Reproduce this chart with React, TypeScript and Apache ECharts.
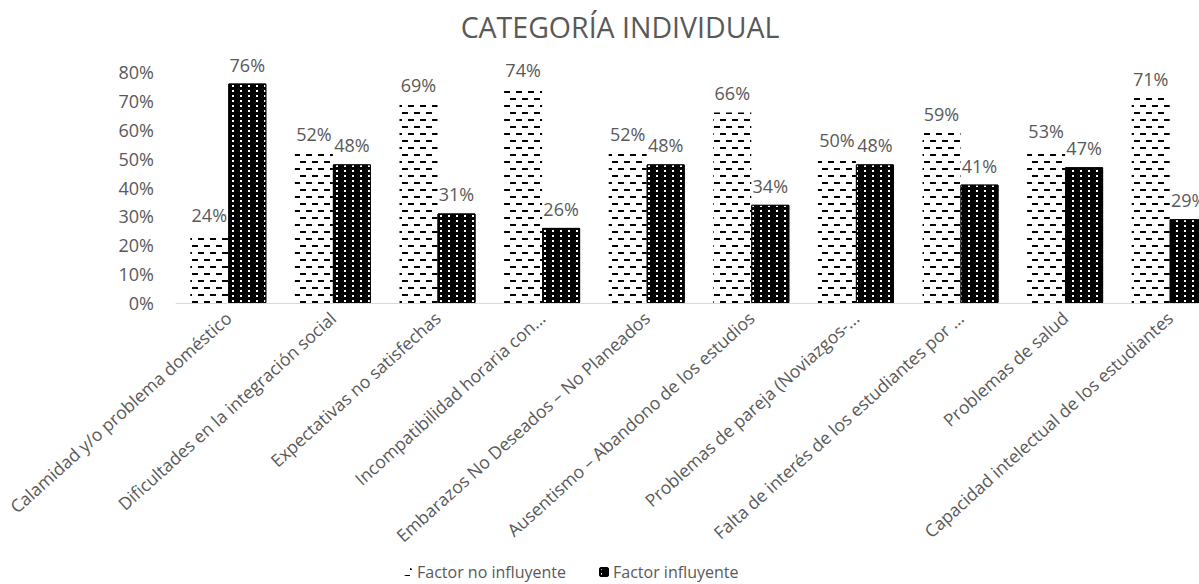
import React, { useEffect, useRef } from "react";
import * as echarts from "echarts";

const categories = [
  "Calamidad y/o problema doméstico",
  "Dificultades en la integración social",
  "Expectativas no satisfechas",
  "Incompatibilidad horaria con...",
  "Embarazos No Deseados – No Planeados",
  "Ausentismo – Abandono de los estudios",
  "Problemas de pareja (Noviazgos-...",
  "Falta de interés de los estudiantes por ...",
  "Problemas de salud",
  "Capacidad intelectual de los estudiantes",
];
const noInfluyente = [24, 52, 69, 74, 52, 66, 50, 59, 53, 71];
const influyente = [76, 48, 31, 26, 48, 34, 48, 41, 47, 29];
const seriesNames = ["Factor no influyente", "Factor influyente"];

const FONT = "Open Sans";
const GRAY = "#595959";

export default function App() {
  const ref = useRef<HTMLDivElement>(null);
  useEffect(() => {
    if (!ref.current) return;
    const chart = echarts.init(ref.current, undefined, { renderer: "svg" });
    chart.setOption({
      animation: false,
      backgroundColor: "#fff",
      textStyle: { fontFamily: FONT },
      title: {
        text: "CATEGORÍA INDIVIDUAL",
        left: "center",
        top: 7,
        textStyle: { fontFamily: FONT, fontSize: 28.5, fontWeight: "normal", color: GRAY },
      },
      legend: {
        left: 404,
        top: 564,
        padding: 0,
        itemWidth: 8,
        itemHeight: 8,
        itemGap: 33,
        textStyle: { fontFamily: FONT, fontSize: 16, lineHeight: 14, color: GRAY },
        data: seriesNames,
      },
      grid: { left: 176, top: 72, width: 1046, height: 231, containLabel: false },
      xAxis: {
        type: "category",
        data: categories,
        axisLine: { lineStyle: { color: "#d9d9d9", width: 1 } },
        axisTick: { show: false },
        axisLabel: {
          rotate: 42,
          interval: 0,
          margin: 12,
          fontFamily: FONT,
          fontSize: 17.5,
          color: GRAY,
        },
      },
      yAxis: {
        type: "value",
        min: 0,
        max: 80,
        interval: 10,
        splitLine: { show: false },
        axisLine: { show: false },
        axisTick: { show: false },
        axisLabel: { formatter: "{value}%", margin: 22, fontFamily: FONT, fontSize: 18, color: GRAY },
      },
      series: [
        {
          name: seriesNames[0],
          type: "bar",
          data: noInfluyente,
          barWidth: 38,
          barGap: "0%",
          itemStyle: {
            color: "#fff",
            decal: {
              symbol: "rect",
              symbolSize: 1,
              symbolKeepAspect: false,
              color: "#000",
              backgroundColor: "#fff",
              dashArrayX: [
                [6, 6],
                [0, 6, 6, 0],
              ],
              dashArrayY: [1.5, 4.5],
              rotation: 0,
            },
          },
          label: {
            show: true,
            position: "top",
            distance: 10,
            formatter: "{c}%",
            fontFamily: FONT,
            fontSize: 18,
            color: GRAY,
          },
        },
        {
          name: seriesNames[1],
          type: "bar",
          data: influyente,
          barWidth: 38,
          barGap: "0%",
          itemStyle: {
            color: "#000",
            borderColor: "#000",
            borderWidth: 1,
            decal: {
              symbol: "rect",
              symbolSize: 1,
              symbolKeepAspect: false,
              color: "#fff",
              backgroundColor: "#000",
              dashArrayX: [1.2, 5.3],
              dashArrayY: [1.2, 3],
              rotation: 0,
            },
          },
          label: {
            show: true,
            position: "top",
            distance: 10,
            formatter: "{c}%",
            fontFamily: FONT,
            fontSize: 18,
            color: GRAY,
          },
        },
      ],
    });
    return () => chart.dispose();
  }, []);
  return (
    <div
      style={{
        position: "fixed",
        left: 0,
        top: 0,
        width: 1199,
        height: 584,
        overflow: "hidden",
        background: "#fff",
      }}
    >
      <div ref={ref} style={{ width: 1240, height: 584 }} />
    </div>
  );
}
